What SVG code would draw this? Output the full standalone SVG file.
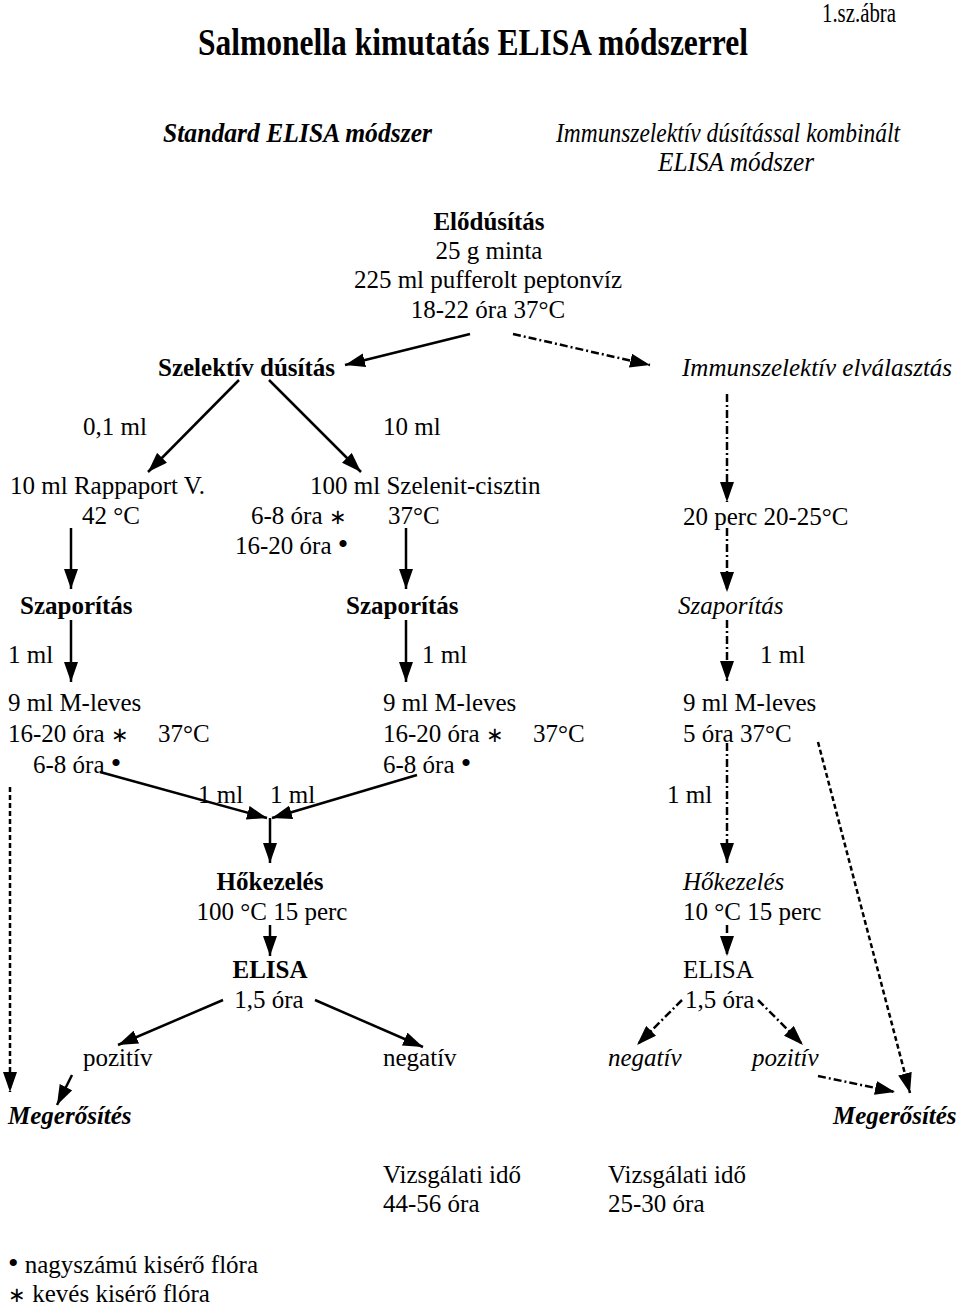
<svg xmlns="http://www.w3.org/2000/svg" width="960" height="1306" viewBox="0 0 960 1306">
<style>
text{font-family:"Liberation Serif","Times New Roman",serif;font-size:25px;fill:#000}
.b{font-weight:bold}
.i{font-style:italic}
.bi{font-weight:bold;font-style:italic}
.ttl{font-size:37px}
.hd{font-size:27px}
.fig{font-size:27px}
.ln{stroke:#000;stroke-width:2.5;fill:none}
.dd{stroke-dasharray:8 3 2 3}
.da{stroke-dasharray:5 3}
.ast{font-size:21px}
.dot{font-size:30px}
</style>
<defs>
<marker id="ah" viewBox="0 0 20 14" refX="20" refY="7" markerWidth="20" markerHeight="14" markerUnits="userSpaceOnUse" orient="auto">
<path d="M0,0 L20,7 L0,14 z" fill="#000"/>
</marker>
</defs>
<rect width="960" height="1306" fill="#fff"/>

<g id="header">
<text x="822" y="22" class="fig" textLength="74" lengthAdjust="spacingAndGlyphs">1.sz.ábra</text>
<text x="198" y="55" class="b ttl" textLength="550" lengthAdjust="spacingAndGlyphs">Salmonella kimutatás ELISA módszerrel</text>
<text x="163" y="142" class="bi hd" textLength="269" lengthAdjust="spacingAndGlyphs">Standard ELISA módszer</text>
<text x="556" y="142" class="i hd" textLength="344" lengthAdjust="spacingAndGlyphs">Immunszelektív dúsítással kombinált</text>
<text x="658" y="171" class="i hd" textLength="156" lengthAdjust="spacingAndGlyphs">ELISA módszer</text>
</g>

<g id="n-elodusitas">
<text x="489" y="230" class="b" text-anchor="middle">Elődúsítás</text>
<text x="489" y="259" text-anchor="middle">25 g minta</text>
<text x="488" y="288" text-anchor="middle">225 ml pufferolt peptonvíz</text>
<text x="488" y="318" text-anchor="middle">18-22 óra 37°C</text>
</g>

<g id="n-szelektiv"><text x="158" y="376" class="b">Szelektív dúsítás</text></g>
<g id="n-immunelval"><text x="682" y="376" class="i">Immunszelektív elválasztás</text></g>

<g id="lbl-01"><text x="83" y="435">0,1 ml</text></g>
<g id="lbl-10"><text x="383" y="435">10 ml</text></g>

<g id="n-rappaport">
<text x="10" y="494">10 ml Rappaport V.</text>
<text x="82" y="524">42 °C</text>
</g>
<g id="n-szelenit">
<text x="310" y="494">100 ml Szelenit-cisztin</text>
<text x="251" y="524">6-8 óra <tspan class="ast">∗</tspan></text>
<text x="388" y="524">37°C</text>
<text x="235" y="554">16-20 óra <tspan class="dot">•</tspan></text>
</g>
<g id="n-20perc"><text x="683" y="525">20 perc 20-25°C</text></g>

<g id="n-szap1"><text x="20" y="614" class="b">Szaporítás</text></g>
<g id="n-szap2"><text x="346" y="614" class="b">Szaporítás</text></g>
<g id="n-szap3"><text x="678" y="614" class="i">Szaporítás</text></g>

<g id="lbl-1ml-a"><text x="8" y="663">1 ml</text></g>
<g id="lbl-1ml-b"><text x="422" y="663">1 ml</text></g>
<g id="lbl-1ml-c"><text x="760" y="663">1 ml</text></g>

<g id="n-mleves1">
<text x="8" y="711">9 ml M-leves</text>
<text x="8" y="742">16-20 óra <tspan class="ast">∗</tspan></text>
<text x="158" y="742">37°C</text>
<text x="33" y="773">6-8 óra <tspan class="dot">•</tspan></text>
</g>
<g id="n-mleves2">
<text x="383" y="711">9 ml M-leves</text>
<text x="383" y="742">16-20 óra <tspan class="ast">∗</tspan></text>
<text x="533" y="742">37°C</text>
<text x="383" y="773">6-8 óra <tspan class="dot">•</tspan></text>
</g>
<g id="n-mleves3">
<text x="683" y="711">9 ml M-leves</text>
<text x="683" y="742">5 óra 37°C</text>
</g>

<g id="lbl-1ml-d"><text x="198" y="803">1 ml</text></g>
<g id="lbl-1ml-e"><text x="270" y="803">1 ml</text></g>
<g id="lbl-1ml-f"><text x="667" y="803">1 ml</text></g>

<g id="n-hokez1">
<text x="270" y="890" class="b" text-anchor="middle">Hőkezelés</text>
<text x="272" y="920" text-anchor="middle">100 °C 15 perc</text>
</g>
<g id="n-hokez2">
<text x="683" y="890" class="i">Hőkezelés</text>
<text x="683" y="920">10 °C 15 perc</text>
</g>

<g id="n-elisa1">
<text x="270" y="978" class="b" text-anchor="middle">ELISA</text>
<text x="269" y="1008" text-anchor="middle">1,5 óra</text>
</g>
<g id="n-elisa2">
<text x="683" y="978">ELISA</text>
<text x="685" y="1008">1,5 óra</text>
</g>

<g id="n-poz1"><text x="83" y="1066">pozitív</text></g>
<g id="n-neg1"><text x="383" y="1066">negatív</text></g>
<g id="n-neg2"><text x="608" y="1066" class="i">negatív</text></g>
<g id="n-poz2"><text x="752" y="1066" class="i">pozitív</text></g>

<g id="n-meg1"><text x="8" y="1124" class="bi">Megerősítés</text></g>
<g id="n-meg2"><text x="833" y="1124" class="bi">Megerősítés</text></g>

<g id="n-ido1">
<text x="383" y="1183">Vizsgálati idő</text>
<text x="383" y="1212">44-56 óra</text>
</g>
<g id="n-ido2">
<text x="608" y="1183">Vizsgálati idő</text>
<text x="608" y="1212">25-30 óra</text>
</g>

<g id="legend">
<text x="8" y="1273"><tspan class="dot">•</tspan> nagyszámú kisérő flóra</text>
<text x="8" y="1302"><tspan class="ast">∗</tspan> kevés kisérő flóra</text>
</g>

<g id="connectors">
<line class="ln" x1="470" y1="334" x2="345" y2="365" marker-end="url(#ah)"/>
<line class="ln dd" x1="513" y1="334" x2="650" y2="365" marker-end="url(#ah)"/>
<line class="ln" x1="239" y1="380" x2="148" y2="472" marker-end="url(#ah)"/>
<line class="ln" x1="269" y1="380" x2="361" y2="472" marker-end="url(#ah)"/>
<line class="ln dd" x1="727" y1="394" x2="727" y2="502" marker-end="url(#ah)"/>
<line class="ln" x1="71" y1="528" x2="71" y2="589" marker-end="url(#ah)"/>
<line class="ln" x1="406" y1="528" x2="406" y2="589" marker-end="url(#ah)"/>
<line class="ln dd" x1="727" y1="528" x2="727" y2="592" marker-end="url(#ah)"/>
<line class="ln" x1="71" y1="620" x2="71" y2="682" marker-end="url(#ah)"/>
<line class="ln" x1="406" y1="620" x2="406" y2="682" marker-end="url(#ah)"/>
<line class="ln dd" x1="727" y1="620" x2="727" y2="681" marker-end="url(#ah)"/>
<line class="ln" x1="100" y1="772" x2="267" y2="818" marker-end="url(#ah)"/>
<line class="ln" x1="417" y1="775" x2="272" y2="818" marker-end="url(#ah)"/>
<line class="ln" x1="270" y1="818" x2="270" y2="863" marker-end="url(#ah)"/>
<line class="ln" x1="270" y1="925" x2="270" y2="956" marker-end="url(#ah)"/>
<line class="ln" x1="223" y1="1000" x2="118" y2="1045" marker-end="url(#ah)"/>
<line class="ln" x1="315" y1="1000" x2="423" y2="1047" marker-end="url(#ah)"/>
<line class="ln" x1="72" y1="1075" x2="57" y2="1105" marker-end="url(#ah)"/>
<line class="ln da" x1="10" y1="787" x2="10" y2="1092" marker-end="url(#ah)"/>
<line class="ln dd" x1="727" y1="743" x2="727" y2="863" marker-end="url(#ah)"/>
<line class="ln dd" x1="727" y1="925" x2="727" y2="956" marker-end="url(#ah)"/>
<line class="ln dd" x1="682" y1="1000" x2="637" y2="1045" marker-end="url(#ah)"/>
<line class="ln dd" x1="758" y1="1000" x2="803" y2="1045" marker-end="url(#ah)"/>
<line class="ln dd" x1="818" y1="1076" x2="895" y2="1092" marker-end="url(#ah)"/>
<line class="ln da" x1="818" y1="742" x2="910" y2="1093" marker-end="url(#ah)"/>
</g>
</svg>
